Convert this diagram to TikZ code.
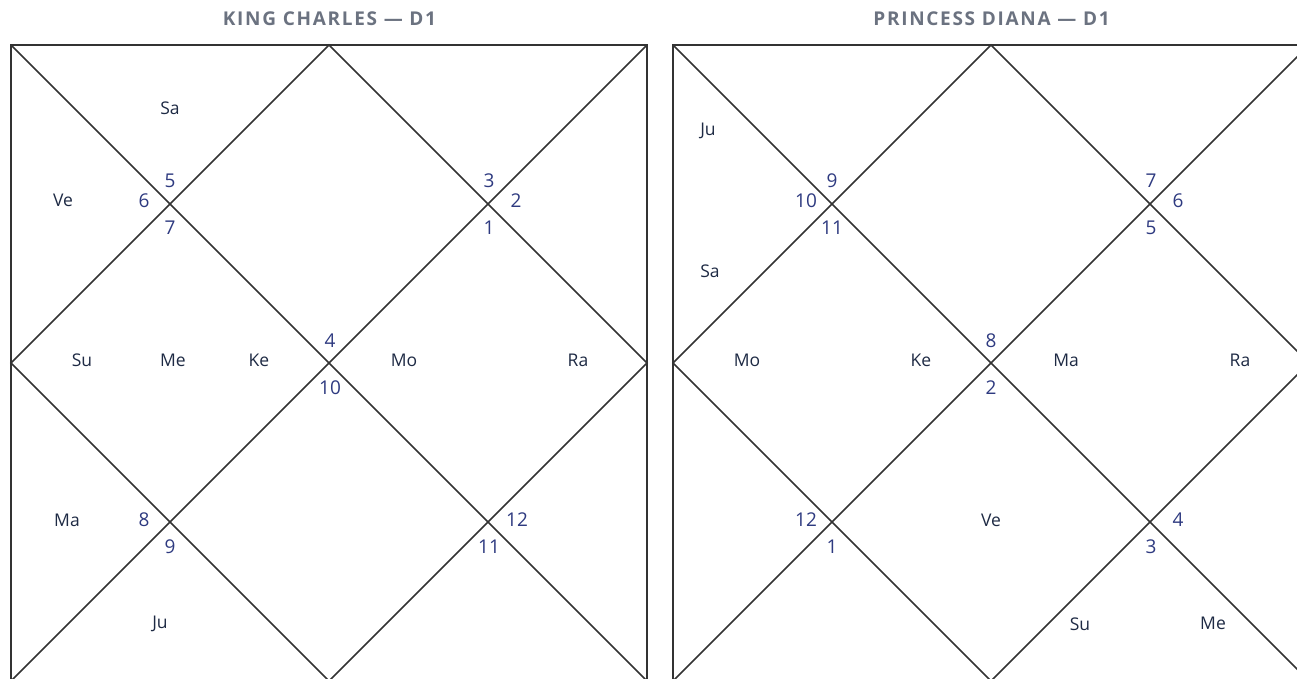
\documentclass[tikz,border=0pt]{standalone}
\usepackage{fontspec}
\setmainfont{Open Sans}
\newfontfamily\titlefont[LetterSpace=9]{Open Sans}
\definecolor{chartline}{HTML}{333333}
\definecolor{housenum}{HTML}{2E3A80}
\definecolor{planetcol}{HTML}{1E2A44}
\definecolor{titlecol}{HTML}{6B7280}
\tikzset{
  frame/.style={line width=1.5pt,chartline},
  num/.style={text=housenum,font=\fontsize{19}{21}\selectfont,inner sep=0pt},
  planet/.style={text=planetcol,font=\fontsize{17.5}{20}\selectfont,inner sep=0pt},
  charttitle/.style={text=titlecol,font=\titlefont\bfseries\fontsize{19}{21}\selectfont,inner sep=0pt}
}
\begin{document}
\begin{tikzpicture}[x=1pt,y=-1pt]
  \useasboundingbox (0,0) rectangle (1297,678);
  \clip (0,0) rectangle (1297,678);
  % titles
  \node[charttitle] (titleL) at (329.5,19) {KING CHARLES — D1};
  \node[charttitle] (titleR) at (991.5,19) {PRINCESS DIANA — D1};
  % both chart frames
  \foreach \ox in {11,673} {
    \draw[frame] (\ox,45) rectangle ++(636,636);
    \draw[frame] (\ox,45) -- ++(636,636);
    \draw[frame] (\ox+636,45) -- ++(-636,636);
    \draw[frame] (\ox+318,45) -- (\ox+636,363) -- (\ox+318,681) -- (\ox,363) -- cycle;
  }
  % left chart: house numbers
  \foreach \n/\x/\y in {5/170/181,6/144/201,7/170/228,3/489/181,2/516/201,1/489/228,
                        4/330/341,10/330/388,8/144/520,9/170/547,12/517/520,11/489/547}
    \node[num] (kc\n) at (\x,\y) {\n};
  % left chart: planets
  \foreach \p/\x/\y in {Sa/170/108,Ve/63/200,Su/82/360,Me/173/360,Ke/259/360,
                        Mo/404/360,Ra/578/360,Ma/67/520,Ju/160/624}
    \node[planet] (kc\p) at (\x,\y) {\p};
  % right chart: house numbers
  \foreach \n/\x/\y in {9/832/181,10/806/201,11/832/228,7/1151/181,6/1178/201,5/1151/228,
                        8/991/341,2/991/388,12/806/520,1/832/547,4/1178/520,3/1151/547}
    \node[num] (pd\n) at (\x,\y) {\n};
  % right chart: planets
  \foreach \p/\x/\y in {Ju/708/131,Sa/710/271,Mo/747/360,Ke/921/360,Ma/1066/360,
                        Ra/1240/360,Ve/991/520,Su/1080/624,Me/1213/623}
    \node[planet] (pd\p) at (\x,\y) {\p};
\end{tikzpicture}
\end{document}
